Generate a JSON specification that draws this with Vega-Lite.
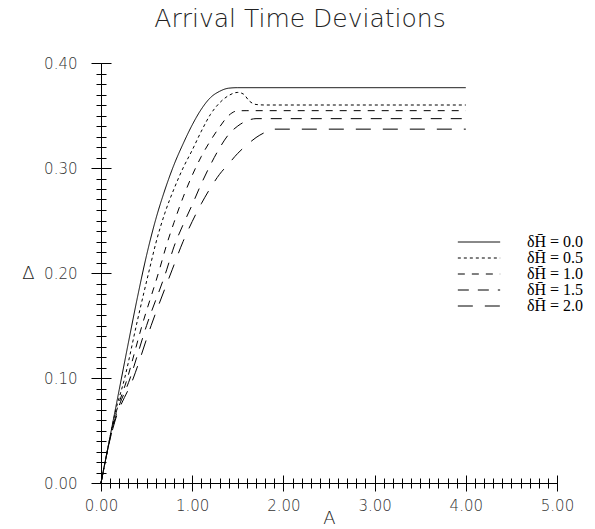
{
  "$schema": "https://vega.github.io/schema/vega-lite/v6.json",
  "width": 456,
  "height": 420,
  "autosize": "none",
  "padding": {"left": 101, "top": 63, "right": 38, "bottom": 46},
  "background": "white",
  "title": {"text": "Arrival Time Deviations", "font": "DejaVu Sans", "fontSize": 25, "fontWeight": 200, "color": "#222", "anchor": "middle", "dx": -29, "offset": 24},
  "datasets": {
    "curves": [
      {"g": "δH̄ = 0.0", "A": 0, "D": 0},
      {"g": "δH̄ = 0.0", "A": 0.1, "D": 0.0445},
      {"g": "δH̄ = 0.0", "A": 0.2, "D": 0.089},
      {"g": "δH̄ = 0.0", "A": 0.3, "D": 0.1335},
      {"g": "δH̄ = 0.0", "A": 0.4, "D": 0.177},
      {"g": "δH̄ = 0.0", "A": 0.5, "D": 0.217},
      {"g": "δH̄ = 0.0", "A": 0.6, "D": 0.251},
      {"g": "δH̄ = 0.0", "A": 0.7, "D": 0.279},
      {"g": "δH̄ = 0.0", "A": 0.8, "D": 0.303},
      {"g": "δH̄ = 0.0", "A": 0.9, "D": 0.323},
      {"g": "δH̄ = 0.0", "A": 1.0, "D": 0.341},
      {"g": "δH̄ = 0.0", "A": 1.1, "D": 0.356},
      {"g": "δH̄ = 0.0", "A": 1.2, "D": 0.367},
      {"g": "δH̄ = 0.0", "A": 1.3, "D": 0.373},
      {"g": "δH̄ = 0.0", "A": 1.4, "D": 0.376},
      {"g": "δH̄ = 0.0", "A": 1.5, "D": 0.3765},
      {"g": "δH̄ = 0.0", "A": 4.0, "D": 0.3765},

      {"g": "δH̄ = 0.5", "A": 0, "D": 0},
      {"g": "δH̄ = 0.5", "A": 0.1, "D": 0.044},
      {"g": "δH̄ = 0.5", "A": 0.15, "D": 0.065},
      {"g": "δH̄ = 0.5", "A": 0.26, "D": 0.1},
      {"g": "δH̄ = 0.5", "A": 0.4, "D": 0.155},
      {"g": "δH̄ = 0.5", "A": 0.53, "D": 0.203},
      {"g": "δH̄ = 0.5", "A": 0.6, "D": 0.228},
      {"g": "δH̄ = 0.5", "A": 0.7, "D": 0.257},
      {"g": "δH̄ = 0.5", "A": 0.8, "D": 0.28},
      {"g": "δH̄ = 0.5", "A": 0.9, "D": 0.3},
      {"g": "δH̄ = 0.5", "A": 1.0, "D": 0.317},
      {"g": "δH̄ = 0.5", "A": 1.1, "D": 0.335},
      {"g": "δH̄ = 0.5", "A": 1.2, "D": 0.351},
      {"g": "δH̄ = 0.5", "A": 1.3, "D": 0.362},
      {"g": "δH̄ = 0.5", "A": 1.4, "D": 0.369},
      {"g": "δH̄ = 0.5", "A": 1.5, "D": 0.372},
      {"g": "δH̄ = 0.5", "A": 1.56, "D": 0.3705},
      {"g": "δH̄ = 0.5", "A": 1.63, "D": 0.3635},
      {"g": "δH̄ = 0.5", "A": 1.7, "D": 0.3605},
      {"g": "δH̄ = 0.5", "A": 1.8, "D": 0.36},
      {"g": "δH̄ = 0.5", "A": 4.0, "D": 0.36},

      {"g": "δH̄ = 1.0", "A": 0, "D": 0},
      {"g": "δH̄ = 1.0", "A": 0.1, "D": 0.043},
      {"g": "δH̄ = 1.0", "A": 0.15, "D": 0.062},
      {"g": "δH̄ = 1.0", "A": 0.29, "D": 0.1},
      {"g": "δH̄ = 1.0", "A": 0.45, "D": 0.15},
      {"g": "δH̄ = 1.0", "A": 0.64, "D": 0.203},
      {"g": "δH̄ = 1.0", "A": 0.713, "D": 0.225},
      {"g": "δH̄ = 1.0", "A": 0.8, "D": 0.248},
      {"g": "δH̄ = 1.0", "A": 0.9, "D": 0.272},
      {"g": "δH̄ = 1.0", "A": 1.0, "D": 0.293},
      {"g": "δH̄ = 1.0", "A": 1.1, "D": 0.311},
      {"g": "δH̄ = 1.0", "A": 1.2, "D": 0.326},
      {"g": "δH̄ = 1.0", "A": 1.3, "D": 0.339},
      {"g": "δH̄ = 1.0", "A": 1.4, "D": 0.35},
      {"g": "δH̄ = 1.0", "A": 1.5, "D": 0.3545},
      {"g": "δH̄ = 1.0", "A": 1.6, "D": 0.3546},
      {"g": "δH̄ = 1.0", "A": 4.0, "D": 0.3546},

      {"g": "δH̄ = 1.5", "A": 0, "D": 0},
      {"g": "δH̄ = 1.5", "A": 0.1, "D": 0.042},
      {"g": "δH̄ = 1.5", "A": 0.15, "D": 0.06},
      {"g": "δH̄ = 1.5", "A": 0.32, "D": 0.1},
      {"g": "δH̄ = 1.5", "A": 0.5, "D": 0.15},
      {"g": "δH̄ = 1.5", "A": 0.72, "D": 0.203},
      {"g": "δH̄ = 1.5", "A": 0.8, "D": 0.225},
      {"g": "δH̄ = 1.5", "A": 0.9, "D": 0.246},
      {"g": "δH̄ = 1.5", "A": 1.0, "D": 0.265},
      {"g": "δH̄ = 1.5", "A": 1.1, "D": 0.285},
      {"g": "δH̄ = 1.5", "A": 1.2, "D": 0.303},
      {"g": "δH̄ = 1.5", "A": 1.3, "D": 0.319},
      {"g": "δH̄ = 1.5", "A": 1.4, "D": 0.332},
      {"g": "δH̄ = 1.5", "A": 1.5, "D": 0.34},
      {"g": "δH̄ = 1.5", "A": 1.6, "D": 0.345},
      {"g": "δH̄ = 1.5", "A": 1.7, "D": 0.347},
      {"g": "δH̄ = 1.5", "A": 4.0, "D": 0.347},

      {"g": "δH̄ = 2.0", "A": 0, "D": 0},
      {"g": "δH̄ = 2.0", "A": 0.1, "D": 0.042},
      {"g": "δH̄ = 2.0", "A": 0.15, "D": 0.058},
      {"g": "δH̄ = 2.0", "A": 0.355, "D": 0.1},
      {"g": "δH̄ = 2.0", "A": 0.55, "D": 0.15},
      {"g": "δH̄ = 2.0", "A": 0.78, "D": 0.203},
      {"g": "δH̄ = 2.0", "A": 0.9, "D": 0.23},
      {"g": "δH̄ = 2.0", "A": 1.0, "D": 0.249},
      {"g": "δH̄ = 2.0", "A": 1.1, "D": 0.266},
      {"g": "δH̄ = 2.0", "A": 1.2, "D": 0.281},
      {"g": "δH̄ = 2.0", "A": 1.3, "D": 0.294},
      {"g": "δH̄ = 2.0", "A": 1.4, "D": 0.304},
      {"g": "δH̄ = 2.0", "A": 1.5, "D": 0.314},
      {"g": "δH̄ = 2.0", "A": 1.6, "D": 0.322},
      {"g": "δH̄ = 2.0", "A": 1.7, "D": 0.329},
      {"g": "δH̄ = 2.0", "A": 1.8, "D": 0.334},
      {"g": "δH̄ = 2.0", "A": 1.9, "D": 0.337},
      {"g": "δH̄ = 2.0", "A": 4.0, "D": 0.337}
    ]
  },
  "data": {"name": "curves"},
  "layer": [
    {
      "mark": {"type": "line", "strokeWidth": 1, "color": "black", "interpolate": "monotone"},
      "encoding": {
        "x": {
          "field": "A", "type": "quantitative",
          "scale": {"domain": [0, 5], "nice": false},
          "axis": {
            "orient": "bottom",
            "values": [0, 1, 2, 3, 4, 5],
            "format": ".2f",
            "ticks": false,
            "labelOverlap": false,
            "labelFlush": false,
            "grid": false,
            "domainColor": "black",
            "labelFont": "DejaVu Sans",
            "labelFontSize": 15,
            "labelFontWeight": 200,
            "labelColor": "#333",
            "labelPadding": 15,
            "title": "A",
            "titleFont": "DejaVu Sans",
            "titleFontSize": 18,
            "titleFontWeight": 200,
            "titleColor": "#222",
            "titleBaseline": "middle",
            "titleY": 35
          }
        },
        "y": {
          "field": "D", "type": "quantitative",
          "scale": {"domain": [0, 0.4], "nice": false},
          "axis": {
            "orient": "left",
            "values": [0, 0.1, 0.2, 0.3, 0.4],
            "format": ".2f",
            "ticks": false,
            "labelOverlap": false,
            "labelFlush": false,
            "grid": false,
            "domainColor": "black",
            "labelFont": "DejaVu Sans",
            "labelFontSize": 15,
            "labelFontWeight": 200,
            "labelColor": "#333",
            "labelPadding": 24,
            "title": "Δ",
            "titleAngle": 0,
            "titleAlign": "center",
            "titleBaseline": "middle",
            "titleX": -73,
            "titleY": 210,
            "titleFont": "DejaVu Sans",
            "titleFontSize": 18,
            "titleFontWeight": 200,
            "titleColor": "#222"
          }
        },
        "strokeDash": {
          "field": "g", "type": "nominal",
          "scale": {
            "domain": ["δH̄ = 0.0", "δH̄ = 0.5", "δH̄ = 1.0", "δH̄ = 1.5", "δH̄ = 2.0"],
            "range": [[1, 0], [3, 3], [7, 7], [11, 9], [15, 12]]
          },
          "legend": {
            "orient": "none",
            "legendX": 370,
            "legendY": 171,
            "title": null,
            "symbolType": "M-8,0H8",
            "symbolSize": 28,
            "symbolStrokeWidth": 1,
            "symbolStrokeColor": "black",
            "labelFont": "Liberation Serif",
            "labelFontSize": 16,
            "labelColor": "black",
            "labelOffset": 40,
            "rowPadding": 0
          }
        }
      }
    },
    {
      "mark": {"type": "point", "opacity": 0, "size": 0},
      "encoding": {
        "x": {
          "field": "A", "type": "quantitative",
          "scale": {"domain": [0, 5], "nice": false},
          "axis": {
            "orient": "bottom",
            "values": [0,0.1,0.2,0.3,0.4,0.5,0.6,0.7,0.8,0.9,1,1.1,1.2,1.3,1.4,1.5,1.6,1.7,1.8,1.9,2,2.1,2.2,2.3,2.4,2.5,2.6,2.7,2.8,2.9,3,3.1,3.2,3.3,3.4,3.5,3.6,3.7,3.8,3.9,4,4.1,4.2,4.3,4.4,4.5,4.6,4.7,4.8,4.9,5],
            "labels": false,
            "domain": false,
            "grid": true,
            "gridColor": "black",
            "gridDash": [0, 415, 5, 100],
            "gridWidth": 1,
            "title": null,
            "ticks": true,
            "tickSize": 5,
            "tickColor": "black"
          }
        },
        "y": {
          "field": "D", "type": "quantitative",
          "scale": {"domain": [0, 0.4], "nice": false},
          "axis": {
            "orient": "left",
            "values": [0,0.01,0.02,0.03,0.04,0.05,0.06,0.07,0.08,0.09,0.1,0.11,0.12,0.13,0.14,0.15,0.16,0.17,0.18,0.19,0.2,0.21,0.22,0.23,0.24,0.25,0.26,0.27,0.28,0.29,0.3,0.31,0.32,0.33,0.34,0.35,0.36,0.37,0.38,0.39,0.4],
            "labels": false,
            "domain": false,
            "grid": true,
            "gridColor": "black",
            "gridDash": [5, 2000],
            "gridWidth": 1,
            "title": null,
            "ticks": true,
            "tickSize": 5,
            "tickColor": "black"
          }
        }
      }
    },
    {
      "mark": {"type": "point", "opacity": 0, "size": 0},
      "encoding": {
        "x": {
          "field": "A", "type": "quantitative",
          "scale": {"domain": [0, 5], "nice": false},
          "axis": {
            "orient": "bottom",
            "values": [0, 1, 2, 3, 4, 5],
            "labels": false,
            "domain": false,
            "grid": true,
            "gridColor": "black",
            "gridDash": [0, 412, 8, 100],
            "gridWidth": 1,
            "title": null,
            "ticks": true,
            "tickSize": 8,
            "tickColor": "black"
          }
        },
        "y": {
          "field": "D", "type": "quantitative",
          "scale": {"domain": [0, 0.4], "nice": false},
          "axis": {
            "orient": "left",
            "values": [0, 0.1, 0.2, 0.3, 0.4],
            "labels": false,
            "domain": false,
            "grid": true,
            "gridColor": "black",
            "gridDash": [10, 2000],
            "gridWidth": 1,
            "title": null,
            "ticks": true,
            "tickSize": 10,
            "tickColor": "black"
          }
        }
      }
    }
  ],
  "resolve": {"axis": {"x": "independent", "y": "independent"}},
  "config": {"view": {"stroke": null}}
}
